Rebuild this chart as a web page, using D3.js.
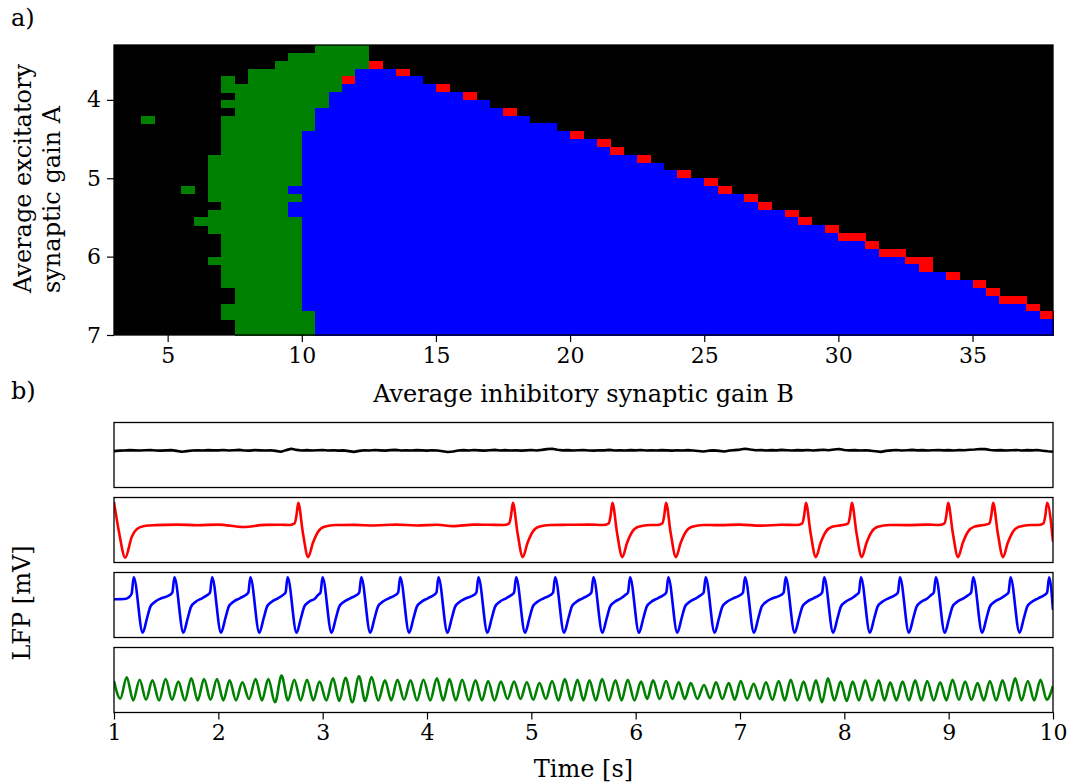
<!DOCTYPE html>
<html>
<head>
<meta charset="utf-8">
<script src="https://cdn.jsdelivr.net/npm/d3@7"></script>
<style>
  body { margin: 0; background: #fff; }
  svg text { font-family: 'DejaVu Serif', serif; fill: #000; }
</style>
</head>
<body>
<svg width="1069" height="783"></svg>
<script>
// ---------- a) regime map ----------
// left edge of every column (gain B) and top edge of every row (gain A)
const gainB = [3, 3.5, 4, 4.5, 5, 5.5, 6, 6.5, 7, 7.5, 8, 8.5, 9, 9.5, 10, 10.5, 11, 11.5, 12, 12.5,
  13, 13.5, 14, 14.5, 15, 15.5, 16, 16.5, 17, 17.5, 18, 18.5, 19, 19.5, 20, 20.5, 21, 21.5, 22, 22.5,
  23, 23.5, 24, 24.5, 25, 25.5, 26, 26.5, 27, 27.5, 28, 28.5, 29, 29.5, 30, 30.5, 31, 31.5, 32, 32.5,
  33, 33.5, 34, 34.5, 35, 35.5, 36, 36.5, 37, 37.5]
const gainA = [3.3, 3.4, 3.5, 3.6, 3.7, 3.8, 3.9, 4.0, 4.1, 4.2, 4.3, 4.4, 4.5, 4.6, 4.7, 4.8, 4.9,
  5.0, 5.1, 5.2, 5.3, 5.4, 5.5, 5.6, 5.7, 5.8, 5.9, 6.0, 6.1, 6.2, 6.3, 6.4, 6.5, 6.6, 6.7, 6.8, 6.9]
const cellB = 0.5
const cellA = 0.1

// per row: [regime, first column, last column]; everything else is the fixed point (black)
const regimeRuns = [
  [['g', 15, 18]],
  [['g', 13, 18]],
  [['g', 12, 18], ['r', 19, 19]],
  [['g', 10, 17], ['b', 18, 20], ['r', 21, 21]],
  [['g', 8, 8], ['g', 10, 16], ['r', 17, 17], ['b', 18, 22]],
  [['g', 8, 16], ['b', 17, 23], ['r', 24, 24]],
  [['g', 9, 15], ['b', 16, 25], ['r', 26, 26]],
  [['g', 8, 15], ['b', 16, 27]],
  [['g', 9, 14], ['b', 15, 28], ['r', 29, 29]],
  [['g', 2, 2], ['g', 8, 14], ['b', 15, 30]],
  [['g', 8, 14], ['b', 15, 32]],
  [['g', 8, 13], ['b', 14, 33], ['r', 34, 34]],
  [['g', 8, 13], ['b', 14, 35], ['r', 36, 36]],
  [['g', 8, 13], ['b', 14, 36], ['r', 37, 37]],
  [['g', 7, 13], ['b', 14, 38], ['r', 39, 39]],
  [['g', 7, 13], ['b', 14, 40]],
  [['g', 7, 13], ['b', 14, 41], ['r', 42, 42]],
  [['g', 7, 13], ['b', 14, 43], ['r', 44, 44]],
  [['g', 5, 5], ['g', 7, 12], ['b', 13, 44], ['r', 45, 45]],
  [['g', 7, 13], ['b', 14, 46], ['r', 47, 47]],
  [['g', 8, 12], ['b', 13, 47], ['r', 48, 48]],
  [['g', 7, 12], ['b', 13, 49], ['r', 50, 50]],
  [['g', 6, 13], ['b', 14, 50], ['r', 51, 51]],
  [['g', 7, 13], ['b', 14, 52], ['r', 53, 53]],
  [['g', 8, 13], ['b', 14, 53], ['r', 54, 55]],
  [['g', 8, 13], ['b', 14, 55], ['r', 56, 56]],
  [['g', 8, 13], ['b', 14, 56], ['r', 57, 58]],
  [['g', 7, 13], ['b', 14, 58], ['r', 59, 60]],
  [['g', 8, 13], ['b', 14, 59], ['r', 60, 60]],
  [['g', 8, 13], ['b', 14, 61], ['r', 62, 62]],
  [['g', 8, 13], ['b', 14, 63], ['r', 64, 64]],
  [['g', 9, 13], ['b', 14, 64], ['r', 65, 65]],
  [['g', 9, 13], ['b', 14, 65], ['r', 66, 67]],
  [['g', 8, 13], ['b', 14, 67], ['r', 68, 68]],
  [['g', 8, 14], ['b', 15, 68], ['r', 69, 69]],
  [['g', 9, 14], ['b', 15, 69]],
  [['g', 9, 14], ['b', 15, 69]]
]
const regimeColor = { k: '#000000', g: '#008000', b: '#0000ff', r: '#ff0000' }
const bTicks = [5, 10, 15, 20, 25, 30, 35]
const aTicks = [4, 5, 6, 7]

// ---------- b) LFP traces ----------
const timeTicks = [1, 2, 3, 4, 5, 6, 7, 8, 9, 10]

// fixed point: sampled every 0.05 s from t = 1 s
const blackStart = 1
const blackStep = 0.05
const blackV = [
  0.36, 0.40, 0.42, 0.45, 0.43, 0.41, 0.44, 0.46, 0.42, 0.40, 0.43, 0.45, 0.38, 0.30, 0.36, 0.42, 0.44, 0.41, 0.45, 0.43,
  0.43, 0.46, 0.41, 0.44, 0.47, 0.42, 0.40, 0.45, 0.43, 0.41, 0.44, 0.38, 0.30, 0.45, 0.58, 0.47, 0.42, 0.45, 0.41, 0.44,
  0.46, 0.42, 0.44, 0.40, 0.43, 0.36, 0.29, 0.38, 0.44, 0.42, 0.46, 0.43, 0.40, 0.45, 0.47, 0.42, 0.44, 0.41, 0.45, 0.43,
  0.40, 0.44, 0.41, 0.35, 0.27, 0.33, 0.41, 0.45, 0.42, 0.46, 0.43, 0.40, 0.44, 0.47, 0.42, 0.45, 0.41, 0.44, 0.40, 0.43,
  0.46, 0.42, 0.47, 0.54, 0.58, 0.48, 0.43, 0.45, 0.41, 0.44, 0.46, 0.42, 0.40, 0.44, 0.43, 0.47, 0.41, 0.44, 0.42, 0.45,
  0.43, 0.46, 0.42, 0.44, 0.41, 0.45, 0.43, 0.40, 0.44, 0.42, 0.45, 0.41, 0.37, 0.32, 0.40, 0.43, 0.38, 0.33, 0.41, 0.45,
  0.50, 0.58, 0.50, 0.44, 0.46, 0.42, 0.45, 0.43, 0.47, 0.44, 0.41, 0.45, 0.43, 0.46, 0.42, 0.45, 0.48, 0.44, 0.51, 0.56,
  0.46, 0.43, 0.45, 0.41, 0.44, 0.40, 0.34, 0.29, 0.38, 0.43, 0.46, 0.42, 0.44, 0.47, 0.43, 0.45, 0.41, 0.44, 0.46, 0.43,
  0.45, 0.42, 0.46, 0.44, 0.48, 0.51, 0.56, 0.54, 0.46, 0.43, 0.45, 0.41, 0.44, 0.46, 0.42, 0.45, 0.43, 0.46, 0.40, 0.34,
  0.30
]

// irregular spikes [t, mV]
const redTrace = [
  [1.000, 2.60], [1.050, -0.30], [1.108, -2.55], [1.170, -0.65], [1.220, 0.10], [1.290, 0.37], [1.400, 0.45],
  [1.600, 0.50], [1.800, 0.44], [2.000, 0.50], [2.240, 0.28], [2.450, 0.47], [2.600, 0.48],
  [2.676, 0.46], [2.731, 0.62], [2.748, 1.30], [2.766, 2.50], [2.811, -0.30], [2.861, -2.50], [2.906, -1.20], [2.956, -0.16], [3.016, 0.31], [3.126, 0.46],
  [3.300, 0.47], [3.500, 0.42], [3.700, 0.50], [3.900, 0.42], [4.100, 0.48], [4.250, 0.36], [4.450, 0.50], [4.600, 0.48],
  [4.733, 0.46], [4.788, 0.62], [4.805, 1.30], [4.823, 2.50], [4.868, -0.30], [4.918, -2.50], [4.963, -1.20], [5.013, -0.16], [5.073, 0.31], [5.183, 0.46],
  [5.350, 0.48], [5.550, 0.50],
  [5.687, 0.46], [5.742, 0.62], [5.759, 1.30], [5.777, 2.50], [5.822, -0.30], [5.872, -2.50], [5.917, -1.20], [5.967, -0.16], [6.027, 0.31], [6.137, 0.46],
  [6.201, 0.46], [6.256, 0.62], [6.273, 1.30], [6.291, 2.50], [6.336, -0.30], [6.386, -2.50], [6.431, -1.20], [6.481, -0.16], [6.541, 0.31], [6.651, 0.46],
  [6.800, 0.45], [7.000, 0.50], [7.200, 0.40], [7.400, 0.48],
  [7.542, 0.46], [7.597, 0.62], [7.614, 1.30], [7.632, 2.50], [7.677, -0.30], [7.727, -2.50], [7.772, -1.20], [7.822, -0.16], [7.882, 0.31],
  [7.982, 0.46], [8.037, 0.62], [8.054, 1.30], [8.072, 2.50], [8.117, -0.30], [8.167, -2.50], [8.212, -1.20], [8.262, -0.16], [8.322, 0.31], [8.432, 0.46],
  [8.600, 0.45], [8.800, 0.50],
  [8.905, 0.46], [8.960, 0.62], [8.977, 1.30], [8.995, 2.50], [9.040, -0.30], [9.090, -2.50], [9.135, -1.20], [9.185, -0.16], [9.245, 0.31],
  [9.336, 0.46], [9.391, 0.62], [9.408, 1.30], [9.426, 2.50], [9.471, -0.30], [9.521, -2.50], [9.566, -1.20], [9.616, -0.16], [9.676, 0.31], [9.786, 0.46],
  [9.854, 0.46], [9.909, 0.62], [9.926, 1.30], [9.944, 2.50], [10.000, -1.08]
]

// periodic spikes [t, mV]
const blueTrace = [
  [1.000, 0.53], [1.100, 0.55], [1.140, 0.70], [1.169, 1.05],
  [1.189, 2.55], [1.275, -2.55], [1.317, -1.2], [1.349, -0.15], [1.394, 0.3], [1.454, 0.62], [1.534, 0.92], [1.559, 1.14],
  [1.579, 2.55], [1.665, -2.55], [1.707, -1.2], [1.739, -0.15], [1.784, 0.3], [1.844, 0.62], [1.895, 0.92], [1.920, 1.14],
  [1.940, 2.55], [2.026, -2.55], [2.068, -1.2], [2.100, -0.15], [2.145, 0.3], [2.205, 0.62], [2.262, 0.92], [2.287, 1.14],
  [2.307, 2.55], [2.393, -2.55], [2.435, -1.2], [2.467, -0.15], [2.512, 0.3], [2.572, 0.62], [2.619, 0.92], [2.644, 1.14],
  [2.664, 2.55], [2.750, -2.55], [2.792, -1.2], [2.824, -0.15], [2.869, 0.3], [2.929, 0.62], [2.954, 0.92], [2.979, 1.14],
  [2.999, 2.55], [3.085, -2.55], [3.127, -1.2], [3.159, -0.15], [3.204, 0.3], [3.264, 0.62], [3.325, 0.92], [3.350, 1.14],
  [3.370, 2.55], [3.456, -2.55], [3.498, -1.2], [3.530, -0.15], [3.575, 0.3], [3.635, 0.62], [3.698, 0.92], [3.723, 1.14],
  [3.743, 2.55], [3.829, -2.55], [3.871, -1.2], [3.903, -0.15], [3.948, 0.3], [4.008, 0.62], [4.065, 0.92], [4.090, 1.14],
  [4.110, 2.55], [4.196, -2.55], [4.238, -1.2], [4.270, -0.15], [4.315, 0.3], [4.375, 0.62], [4.448, 0.92], [4.473, 1.14],
  [4.493, 2.55], [4.579, -2.55], [4.621, -1.2], [4.653, -0.15], [4.698, 0.3], [4.758, 0.62], [4.809, 0.92], [4.834, 1.14],
  [4.854, 2.55], [4.940, -2.55], [4.982, -1.2], [5.014, -0.15], [5.059, 0.3], [5.119, 0.62], [5.183, 0.92], [5.208, 1.14],
  [5.228, 2.55], [5.314, -2.55], [5.356, -1.2], [5.388, -0.15], [5.433, 0.3], [5.493, 0.62], [5.550, 0.92], [5.575, 1.14],
  [5.595, 2.55], [5.681, -2.55], [5.723, -1.2], [5.755, -0.15], [5.800, 0.3], [5.860, 0.62], [5.901, 0.92], [5.926, 1.14],
  [5.946, 2.55], [6.032, -2.55], [6.074, -1.2], [6.106, -0.15], [6.151, 0.3], [6.211, 0.62], [6.268, 0.92], [6.293, 1.14],
  [6.313, 2.55], [6.399, -2.55], [6.441, -1.2], [6.473, -0.15], [6.518, 0.3], [6.578, 0.62], [6.626, 0.92], [6.651, 1.14],
  [6.671, 2.55], [6.757, -2.55], [6.799, -1.2], [6.831, -0.15], [6.876, 0.3], [6.936, 0.62], [7.003, 0.92], [7.028, 1.14],
  [7.048, 2.55], [7.134, -2.55], [7.176, -1.2], [7.208, -0.15], [7.253, 0.3], [7.313, 0.62], [7.393, 0.92], [7.418, 1.14],
  [7.438, 2.55], [7.524, -2.55], [7.566, -1.2], [7.598, -0.15], [7.643, 0.3], [7.703, 0.62], [7.762, 0.92], [7.787, 1.14],
  [7.807, 2.55], [7.893, -2.55], [7.935, -1.2], [7.967, -0.15], [8.012, 0.3], [8.072, 0.62], [8.114, 0.92], [8.139, 1.14],
  [8.159, 2.55], [8.245, -2.55], [8.287, -1.2], [8.319, -0.15], [8.364, 0.3], [8.424, 0.62], [8.488, 0.92], [8.513, 1.14],
  [8.533, 2.55], [8.619, -2.55], [8.661, -1.2], [8.693, -0.15], [8.738, 0.3], [8.798, 0.62], [8.832, 0.92], [8.857, 1.14],
  [8.877, 2.55], [8.963, -2.55], [9.005, -1.2], [9.037, -0.15], [9.082, 0.3], [9.142, 0.62], [9.190, 0.92], [9.215, 1.14],
  [9.235, 2.55], [9.321, -2.55], [9.363, -1.2], [9.395, -0.15], [9.440, 0.3], [9.500, 0.62], [9.548, 0.92], [9.573, 1.14],
  [9.593, 2.55], [9.679, -2.55], [9.721, -1.2], [9.753, -0.15], [9.798, 0.3], [9.858, 0.62], [9.918, 0.92], [9.943, 1.14],
  [9.963, 2.55], [10.000, -0.46]
]

// alpha-like oscillation: crests and troughs [t, mV]
const greenCrests = [
  [1.122, 0.25], [1.246, 0.03], [1.368, -0.03], [1.495, 0.09], [1.617, -0.15], [1.741, 0.15], [1.863, 0.09],
  [1.987, 0.09], [2.108, -0.03], [2.230, -0.21], [2.357, 0.09], [2.479, 0.09], [2.606, 0.40], [2.728, 0.03],
  [2.850, 0.03], [2.970, -0.15], [3.099, 0.15], [3.219, 0.21], [3.348, 0.34], [3.468, 0.28], [3.597, -0.03],
  [3.717, 0.03], [3.842, -0.03], [3.966, 0.03], [4.095, 0.15], [4.215, 0.09], [4.337, 0.03], [4.465, -0.03],
  [4.586, -0.09], [4.708, -0.15], [4.835, -0.15], [4.957, -0.21], [5.078, -0.28], [5.199, -0.09], [5.321, 0.09],
  [5.442, 0.03], [5.557, -0.03], [5.678, 0.09], [5.806, -0.03], [5.924, 0.03], [6.052, -0.15], [6.167, -0.03],
  [6.291, -0.09], [6.413, -0.21], [6.528, -0.28], [6.655, -0.46], [6.770, -0.21], [6.892, -0.28], [7.007, -0.09],
  [7.131, -0.34], [7.249, -0.21], [7.371, -0.09], [7.486, 0.03], [7.610, -0.15], [7.728, -0.03], [7.843, 0.15],
  [7.965, -0.15], [8.080, -0.15], [8.200, -0.03], [8.329, -0.03], [8.440, -0.21], [8.558, -0.15], [8.679, -0.03],
  [8.794, -0.09], [8.919, -0.21], [9.037, 0.03], [9.158, -0.15], [9.277, -0.28], [9.395, -0.09], [9.516, -0.03],
  [9.637, 0.15], [9.759, -0.09], [9.880, 0.03]
]
const greenTroughs = [
  [1.000, -0.10], [1.060, -1.72], [1.184, -1.88], [1.307, -1.82], [1.432, -1.88], [1.556, -1.82], [1.679, -1.88],
  [1.802, -1.88], [1.925, -1.82], [2.048, -1.88], [2.169, -1.88], [2.294, -1.75], [2.418, -1.88], [2.543, -2.06],
  [2.667, -1.88], [2.789, -1.88], [2.910, -1.88], [3.035, -1.88], [3.159, -1.94], [3.284, -2.06], [3.408, -1.94],
  [3.533, -1.88], [3.657, -1.88], [3.780, -1.82], [3.904, -1.88], [4.031, -1.88], [4.155, -1.88], [4.276, -1.88],
  [4.401, -1.88], [4.526, -1.88], [4.647, -1.88], [4.772, -1.75], [4.896, -1.75], [5.018, -1.82], [5.139, -1.75],
  [5.260, -1.88], [5.382, -1.88], [5.500, -1.88], [5.618, -1.88], [5.742, -1.88], [5.865, -1.88], [5.988, -1.88],
  [6.110, -1.75], [6.229, -1.75], [6.352, -1.75], [6.471, -1.75], [6.592, -1.75], [6.713, -1.69], [6.831, -1.75],
  [6.950, -1.82], [7.069, -1.75], [7.190, -1.75], [7.310, -1.82], [7.429, -1.88], [7.548, -1.88], [7.669, -1.88],
  [7.786, -2.06], [7.904, -1.88], [8.023, -1.94], [8.140, -1.88], [8.265, -1.88], [8.385, -1.88], [8.499, -1.88],
  [8.619, -1.88], [8.737, -1.88], [8.857, -1.88], [8.978, -1.88], [9.098, -1.82], [9.218, -1.82], [9.336, -1.88],
  [9.456, -1.88], [9.577, -1.88], [9.698, -1.88], [9.820, -1.88], [9.940, -1.82], [10.000, -0.55]
]

// ---------- drawing ----------
const svg = d3.select('svg')
const plotLeft = 114
const plotRight = 1053
const tickFont = 22
const labelFont = 24

function styleAxis (g) {
  g.select('.domain').remove()
  g.selectAll('.tick line').attr('stroke', '#000').attr('stroke-width', 1.2)
  g.selectAll('.tick text')
    .attr('font-family', "'DejaVu Serif', serif")
    .attr('font-size', tickFont)
    .attr('fill', '#000')
}

// a) map
const mapTop = 45
const mapBottom = 335
const xB = d3.scaleLinear().domain([3, 38]).range([plotLeft, plotRight])
const yA = d3.scaleLinear().domain([3.3, 7]).range([mapTop, mapBottom])

const cells = []
gainA.forEach((a, r) => {
  regimeRuns[r].forEach(([state, c0, c1]) => {
    for (let c = c0; c <= c1; c++) cells.push({ a, b: gainB[c], state })
  })
})

const map = svg.append('g').attr('shape-rendering', 'crispEdges')
map.append('rect')
  .attr('x', xB(3)).attr('y', yA(3.3))
  .attr('width', xB(38) - xB(3)).attr('height', yA(7) - yA(3.3))
  .attr('fill', regimeColor.k)
map.selectAll('rect.cell')
  .data(cells)
  .join('rect')
  .attr('class', 'cell')
  .attr('x', d => xB(d.b))
  .attr('y', d => yA(d.a))
  .attr('width', d => xB(d.b + cellB) - xB(d.b) + 0.5)
  .attr('height', d => yA(d.a + cellA) - yA(d.a) + 0.5)
  .attr('fill', d => regimeColor[d.state])

svg.append('g')
  .attr('transform', `translate(0,${mapBottom})`)
  .call(d3.axisBottom(xB).tickValues(bTicks).tickSize(7).tickPadding(5))
  .call(styleAxis)
svg.append('g')
  .attr('transform', `translate(${plotLeft},0)`)
  .call(d3.axisLeft(yA).tickValues(aTicks).tickFormat(d3.format('d')).tickSize(7).tickPadding(6))
  .call(styleAxis)
svg.append('rect')
  .attr('x', plotLeft).attr('y', mapTop)
  .attr('width', plotRight - plotLeft).attr('height', mapBottom - mapTop)
  .attr('fill', 'none').attr('stroke', '#000').attr('stroke-width', 1.3)

svg.append('text')
  .attr('x', (plotLeft + plotRight) / 2).attr('y', 402)
  .attr('text-anchor', 'middle').attr('font-size', labelFont)
  .text('Average inhibitory synaptic gain B')
// two-line label, lines aligned at their start (bottom)
const yLab = svg.append('text')
  .attr('transform', 'translate(0,293) rotate(-90)')
  .attr('text-anchor', 'start').attr('font-size', labelFont)
yLab.append('tspan').attr('x', 0).attr('y', 31).text('Average excitatory')
yLab.append('tspan').attr('x', 0).attr('y', 59.5).text('synaptic gain A')

svg.append('text').attr('x', 11).attr('y', 26).attr('font-size', labelFont).text('a)')
svg.append('text').attr('x', 11).attr('y', 399).attr('font-size', labelFont).text('b)')

// b) traces
const xT = d3.scaleLinear().domain([1, 10]).range([plotLeft, plotRight])
const panelTop0 = 422.5
const panelH = 65
const panelGap = 10

const blackTrace = blackV.map((v, i) => [blackStart + i * blackStep, v])
const greenTrace = d3.sort(greenCrests.concat(greenTroughs), d => d[0])

const panels = [
  { trace: blackTrace, color: '#000000', curve: d3.curveLinear },
  { trace: redTrace, color: '#ff0000', curve: d3.curveMonotoneX },
  { trace: blueTrace, color: '#0000ff', curve: d3.curveMonotoneX },
  { trace: greenTrace, color: '#008000', curve: d3.curveMonotoneX }
]

panels.forEach((p, i) => {
  const top = panelTop0 + i * (panelH + panelGap)
  const y = d3.scaleLinear().domain([-3, 3]).range([top + panelH, top])
  const clipId = `clip${i}`
  svg.append('clipPath').attr('id', clipId)
    .append('rect').attr('x', plotLeft).attr('y', top)
    .attr('width', plotRight - plotLeft).attr('height', panelH)
  const line = d3.line()
    .x(d => xT(d[0]))
    .y(d => y(d[1]))
    .curve(p.curve)
  svg.append('path')
    .datum(p.trace)
    .attr('clip-path', `url(#${clipId})`)
    .attr('fill', 'none')
    .attr('stroke', p.color)
    .attr('stroke-width', 2.6)
    .attr('stroke-linejoin', 'round')
    .attr('d', line)
  svg.append('rect')
    .attr('x', plotLeft).attr('y', top)
    .attr('width', plotRight - plotLeft).attr('height', panelH)
    .attr('fill', 'none').attr('stroke', '#000').attr('stroke-width', 1.3)
})

const panelsBottom = panelTop0 + 4 * panelH + 3 * panelGap
svg.append('g')
  .attr('transform', `translate(0,${panelsBottom})`)
  .call(d3.axisBottom(xT).tickValues(timeTicks).tickSize(7).tickPadding(5))
  .call(styleAxis)

svg.append('text')
  .attr('x', (plotLeft + plotRight) / 2).attr('y', 777)
  .attr('text-anchor', 'middle').attr('font-size', labelFont)
  .text('Time [s]')
svg.append('text')
  .attr('transform', 'translate(30,603) rotate(-90)')
  .attr('text-anchor', 'middle').attr('font-size', labelFont)
  .text('LFP [mV]')
</script>
</body>
</html>
